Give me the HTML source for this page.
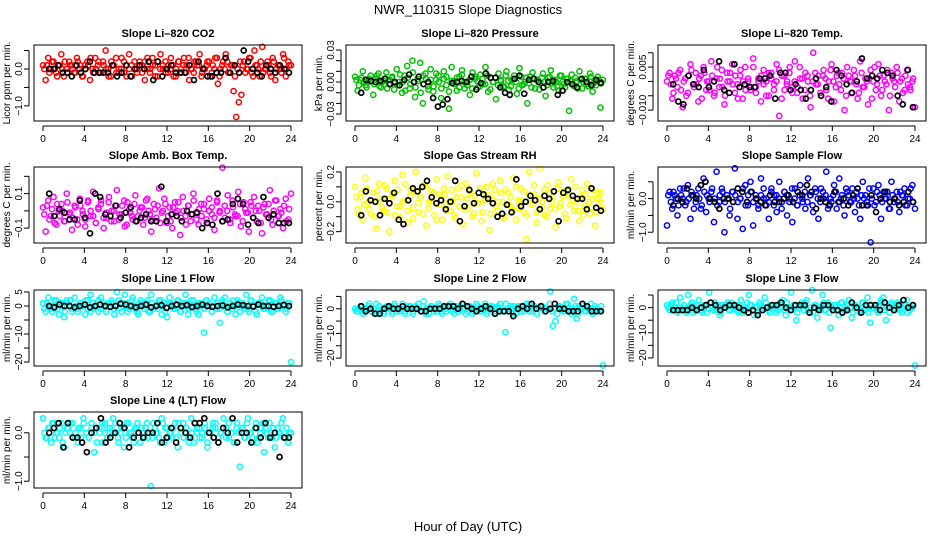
<!DOCTYPE html>
<html><head><meta charset="utf-8"><style>
html,body{margin:0;padding:0;background:#fff}
svg{display:block;font-family:"Liberation Sans",sans-serif}
</style></head><body>
<svg id="chart" width="936" height="540" viewBox="0 0 936 540">
<text x="468" y="14" text-anchor="middle" font-size="13">NWR_110315  Slope Diagnostics</text>
<text x="468" y="531" text-anchor="middle" font-size="13">Hour of Day (UTC)</text>
</svg>
<script>
const xTicks = [0,4,8,12,16,20,24];
const co2Vals = [1,-3,3,0,2,-1,1,4,-2,0,2,1,-1,3,0,-2,1,2,-3,0,3,1,-1,2,5,0,-2,1,3,-1,0,2,-2,4,1,0,-1,2,1,-3,3,0,1,-2,2,4,0,-1,1,3,-2,0,2,-1,3,1,-3,0,2,1,4,-1,0,2,-2,1,3,-4,0,2,4,-1,1,-6,-13,-9,-7,2,0,3,-1,5,1,-2,6,0,2,-1,3,-3,1,0,4,-2,2,1];
const co2Dense = [0,1,-1,2,0,-2,1,0,2,-1,1,0,-1,2,1,-2,0,1,3,-1,0,2,-1,1,0,-2,2,1,-1,0,3,-1,1,0,-2,2,0,1,-1,2,0,-1,3,1,-2,0,1,2,-1,0,1,-2,2,0,1,-1,3,0,-1,2,1,-2,0,1,2,-1,0,3,-2,1,0,2,-1,1,-2,0,2,1,-1,0,3,-2,1,0,2,-1,0,1,-2,2,0,1,-1,3,0,1];
const co2Black = [0,0,1,-1,-1,-2,1,-1,0,2,-1,-1,-1,-1,1,-2,-1,1,-2,0,1,0,2,-3,2,-2,0,1,-1,-1,-1,1,-3,2,0,-2,-2,-1,-1,3,-1,1,-1,5,2,0,-1,-2,1,0,-1,1,0,-1];
const presVals = [5,-8,2,10,-3,0,6,-12,3,8,-5,1,9,-2,4,-7,12,0,-10,6,15,-6,20,-14,3,18,-20,8,-4,12,-9,2,6,-15,10,-3,-25,14,1,-8,5,11,-6,0,-12,9,3,-5,7,-2,14,-9,4,0,-16,8,1,-4,10,-7,2,6,-11,13,-3,0,-20,5,9,-6,2,-1,8,-13,4,11,-5,0,-8,6,-2,3,-27,7,-4,1,10,-6,3,-2,8,-9,0,5,-24,2];
const presDense = [2,-3,4,0,-5,3,1,-2,6,-4,0,3,-6,2,5,-1,-3,7,0,-8,4,-2,9,-5,1,-10,6,3,-7,2,-4,8,0,-6,3,5,-9,1,-2,4,-5,7,0,-3,2,-6,5,1,-4,3,-2,6,-7,0,4,-3,2,-5,6,1,-4,3,0,-6,5,-2,4,-1,-5,3,2,-7,4,0,-3,5,-1,2,-4,6,0,-5,3,1,-2,4,-6,2,0,3,-4,5,-1,-3,2,0];
const presBlack = [-10,2,1,0,1,3,-2,0,-3,2,7,0,5,-2,0,-15,-23,-21,-16,-1,0,1,0,5,-7,-1,8,4,4,-5,-10,-12,3,6,-11,2,3,0,-5,0,1,-12,-8,0,-2,-5,3,0,-3,2,-1];
const tempVals = [0,3,-6,2,-2,4,-9,1,-4,6,-1,3,-7,2,5,-3,0,7,-5,1,-2,4,-8,3,0,6,-4,-1,2,-6,5,0,-3,8,-2,1,-7,4,0,-5,3,-1,6,-12,2,-3,0,5,-4,7,-2,1,-6,3,0,-9,10,-1,2,-5,4,-3,0,6,-7,2,-1,3,-10,5,0,-4,2,-6,7,-2,1,-8,4,0,-3,6,-5,2,-1,-10,3,0,5,-7,1,-3,4,-2,0,-9];
const tempDense = [2,-1,-4,1,3,-3,0,-5,2,4,-2,-1,1,-6,3,0,-3,2,-4,5,1,-2,-5,0,3,-1,2,-6,4,0,-3,1,-2,5,-4,0,2,-1,-5,3,1,-3,0,4,-6,2,-1,3,-2,0,-4,5,1,-3,2,-5,0,3,-1,-4,2,1,-6,4,0,-2,3,-3,1,-5,2,0,4,-1,-4,3,-2,0,1,-6,5,-1,2,-3,0,4,-5,1,-2,3,0,-4,2,-1,-3,1];
const tempBlack = [-1,-7,-8,2,-1,-2,4,-2,0,7,-3,-4,6,-2,-1,-2,-2,1,1,2,-6,3,3,-3,-1,-3,-6,-3,1,-5,-2,-7,4,2,-1,-4,0,8,1,2,1,4,3,2,-5,-8,4,-9];
const boxVals = [2,-12,6,-3,8,-8,0,4,-6,10,-2,-11,3,-5,7,0,-9,5,-3,11,-7,1,6,-10,-4,8,0,-6,12,-2,3,-9,5,-1,-5,9,-3,2,-8,6,0,-12,4,-4,13,-1,7,-7,2,-10,5,0,-14,8,-3,3,-6,10,-1,-8,4,1,-5,7,-2,-11,6,0,25,-4,9,-7,2,-3,11,-9,5,-1,-12,3,8,-6,0,-13,4,-2,12,-8,6,-3,1,-10,7,-5,10];
const boxDense = [-2,3,-5,1,-7,4,-3,0,-6,5,-1,-4,2,-8,3,-2,-5,6,0,-3,-7,2,4,-4,-1,5,-6,0,3,-5,-2,6,-8,1,-3,4,-6,0,2,-4,7,-2,-5,1,3,-7,0,4,-3,-6,2,-1,5,-4,0,-8,3,-2,6,-5,1,-3,4,-7,0,2,-4,5,-1,-6,3,0,-5,6,-2,-3,4,-6,1,-1,5,-4,0,3,-7,2,-2,4,-5,0,6,-3,-1,3,-6,1];
const boxBlack = [10,-3,1,-1,-5,-5,6,-4,-13,10,8,-2,-3,3,-4,-1,2,-6,-4,-2,-6,-6,14,-6,-2,-3,-6,0,-2,-1,-10,-7,-8,10,-6,-5,4,7,4,-8,-4,-7,8,-4,-2,-7,-7,-7];
const rhVals = [10,-5,3,-12,16,0,-8,6,-18,12,2,-6,9,-20,4,14,-3,-10,18,1,-14,8,-4,20,-7,3,11,-16,0,7,-9,15,-2,-12,5,17,-6,0,-11,9,3,-15,12,-4,6,-8,19,-1,-13,4,10,-19,2,8,-6,14,0,-10,6,-3,16,-12,1,9,-7,-25,20,-2,5,-14,22,0,-9,11,-5,3,-17,13,-1,7,-11,4,15,-6,0,-13,8,-3,12,-8,2,-16,6,0,-5];
const rhDense = [3,-8,6,-2,9,-5,1,-10,7,0,-4,11,-7,2,5,-9,8,-3,0,12,-6,4,-11,7,-1,3,-8,10,-4,1,6,-12,5,-2,9,-6,0,8,-9,3,-3,11,-5,2,7,-10,4,-1,9,-7,1,5,-8,12,-3,0,6,-11,8,-2,3,-6,10,-4,1,7,-9,5,-1,11,-7,2,-4,8,-10,6,0,-5,9,-3,4,-8,7,-2,1,10,-6,3,-9,5,0,-4,8,-7,2,6];
const rhBlack = [-9,7,1,0,-9,2,-1,6,-12,-15,1,9,7,10,14,3,-1,1,-5,0,14,-13,-3,8,-1,6,5,2,-1,-10,-8,-2,-7,15,-3,0,4,1,-5,4,2,7,-13,6,8,4,2,2,-5,9,-4,-6];
const sfVals = [-8,2,-3,1,-5,3,0,-2,4,-6,1,-1,3,-3,6,-4,0,2,-7,8,-1,3,-10,1,-5,2,9,-6,0,-9,4,-2,5,-8,1,-3,6,0,-2,-6,3,1,-4,5,-1,2,-5,0,-7,3,-2,4,-1,-3,6,1,-4,2,-6,3,0,8,-2,-1,4,-3,6,1,-5,2,-1,3,-4,0,-6,5,1,-2,-13,3,-1,4,-6,2,0,-3,5,-1,2,-4,1,3,-2,0,4,-3];
const sfDense = [1,-1,2,0,-2,1,3,-1,0,2,-3,1,0,-2,2,1,-1,3,0,-2,1,2,-1,0,-3,2,1,-1,0,3,-2,1,2,-1,0,-2,1,3,0,-1,2,-2,1,0,-3,2,1,-1,3,0,-2,1,0,2,-1,1,-2,3,0,-1,2,1,-3,0,1,2,-1,0,-2,3,1,-1,0,2,-2,1,0,-1,3,0,-2,2,1,-1,0,2,-3,1,0,-1,2,1,-2,0,3,-1];
const sfBlack = [-2,0,-1,3,1,0,4,5,0,-1,-3,0,0,-1,3,2,-1,2,0,-1,-2,1,-1,-1,0,1,-1,2,1,4,2,-3,0,-1,-2,2,-1,0,-2,1,3,-2,-2,1,-4,0,2,-1,0,-2,-1,2,-1];
const l1Vals = [1,-2,3,-1,0,2,-3,1,-4,2,0,-2,3,-1,1,0,-3,2,4,-1,0,-2,3,1,-2,0,2,-3,5,-1,1,4,-2,0,3,-1,-3,2,0,1,-2,4,-1,0,2,-3,1,-4,3,0,-1,2,-2,1,4,-3,0,2,-1,-3,1,-9.5,2,0,-2,3,-1,-6,1,3,-2,0,2,-3,1,0,-1,4,-2,2,0,-3,1,3,-1,0,2,-2,1,-1,3,0,-2,1,-20];
const l1Dense = [-1,1,0,-2,2,-1,1,0,-2,1,2,-1,0,-2,1,0,2,-1,-2,1,0,2,-1,0,-2,1,1,-1,0,2,-2,0,1,-1,2,0,-2,1,0,-1,2,-2,1,0,-1,2,0,-2,1,1,-1,0,2,-2,0,1,-1,2,0,-2,1,0,-1,2,1,-2,0,1,-1,2,0,-2,1,-1,0,2,-2,1,0,-1,2,0,-2,1,1,-1,0,2,-2,0,1,-1,2,0,-1,1];
const l1Black = [0,-0.5,0.5,0,0,-0.5,0,0.5,-0.5,0,0.5,0,-0.3,0,0.8,0.5,0,-0.5,0,0.5,-0.5,0,0.3,-0.7,0,0.5,0,0.3,-0.4,0,0.5,0,-0.3,0,0.2,-0.5,0,0.5,0.3,0,-0.2,0.5,0,0,-0.3,0,0.4,0];
const l2Vals = [0,-1,1,-2,0,1,-1,0,2,-1,0,-2,1,0,-1,2,0,-1,1,-2,0,1,-1,0,2,-1,3,0,-2,1,0,-1,1,-2,0,1,2,-1,0,-1,1,0,-2,1,0,-1,2,0,-1,1,-2,0,1,-1,0,2,-1,-9.5,0,1,-2,0,1,-1,0,2,-1,0,1,-2,0,1,-1,0,7,-7,-5,1,0,-1,2,0,-2,4,-4,1,0,-1,1,0,-2,1,0,-1,-23];
const l2Dense = [-1,0,1,-1,0,2,-1,0,-2,1,0,-1,1,0,-2,1,-1,0,2,-1,1,0,-2,1,0,-1,1,-2,0,1,-1,0,2,-1,0,-1,1,0,-2,1,-1,2,0,-1,1,-2,0,1,-1,0,2,-1,1,0,-2,1,0,-1,2,-1,0,1,-2,0,1,-1,0,2,-1,1,-2,0,1,-1,0,2,-1,0,-2,1,0,-1,2,-1,0,1,-2,0,1,-1,0,2,-1,0,-1,1];
const l2Black = [1,-1,0,-2,-2,0,1,0,0,1,0,0,0,-1,-1,0,0,0,1,1,1,0,2,1,0,-1,0,1,0,-2,-1,-1,-1,-3,0,1,0,2,0,1,-1,0,2,0,0,-1,-1,-1,2,1,-1,-1,-1];
const l3Vals = [1,-1,2,0,-2,4,0,-1,5,1,-2,0,3,-1,1,-2,6,0,2,-1,-3,1,0,2,-1,0,1,-2,3,0,-1,5,1,-3,0,2,-1,4,0,-2,1,0,-1,2,3,-3,0,6,1,-5,0,2,-1,3,-2,7,1,-4,0,5,-1,2,-8,0,1,-3,2,-1,0,3,-4,1,0,-2,2,-1,4,-6,0,1,-2,3,4,-5,0,2,-1,1,0,-2,1,3,-1,0,-23];
const l3Dense = [0,1,-1,2,0,-1,1,-2,0,2,-1,1,0,-2,1,0,2,-1,0,1,-2,0,1,-1,2,0,-1,1,-2,0,2,1,-1,0,-2,1,0,2,-1,0,1,-2,1,0,-1,2,0,-1,1,-2,0,1,2,-1,0,-2,1,0,-1,2,1,-2,0,1,-1,0,2,-1,1,0,-2,1,0,-1,2,0,-2,1,0,-1,1,2,-1,0,-2,1,0,2,-1,0,1,-2,0,1];
const l3Black = [-1,-1,-1,-1,0,-1,0,1,2,1,-1,0,1,1,0,-1,-2,-1,-3,-1,0,1,1,2,0,-1,1,1,1,-2,0,-1,1,1,-1,-1,-2,-1,2,0,-2,1,1,1,-1,2,0,-1,1,3,0,1];
const l4Vals = [3,-1,1,-2,2,0,-1,2,-3,1,0,2,-1,-2,1,3,0,-1,2,-4,1,0,-2,2,1,-1,3,0,-2,1,-3,2,0,-1,1,2,-2,0,1,-1,-11,2,0,-1,3,-2,1,0,-1,2,-3,1,2,0,-1,3,-2,0,1,-1,2,-3,0,1,2,-2,0,3,1,-1,0,-2,2,-7,1,-1,3,0,-2,2,-1,1,-4,0,2,-1,-3,1,0,3,-1,-2,0];
const l4Dense = [0,-1,1,2,-1,0,1,-2,0,1,2,-1,0,1,-1,2,0,-1,1,0,-2,1,2,0,-1,1,0,2,-1,0,1,-1,2,0,-2,1,0,1,-1,2,0,-1,1,0,-2,2,1,-1,0,1,-1,2,0,-1,1,-2,0,2,1,-1,0,1,-2,0,2,1,-1,0,1,-1,2,0,-2,1,0,1,-1,2,0,-1,1,-2,0,2,1,-1,0,1,-1,0,2,-1,1,0];
const l4Black = [0,1,2,-3,2,-1,-1,-2,-4,0,1,3,-2,-1,0,2,1,-3,-1,0,-1,0,0,2,-2,-1,1,-2,1,0,-1,2,2,3,0,-1,-2,1,0,3,-2,0,0,-2,1,-1,2,-1,0,-5,-1,-1];

const panels = [
 {name:'co2',title:'Slope Li\u2013820 CO2',yl:'Licor ppm per min.',col:'#ff0000',c:0,r:0,ymin:-1.41,ymax:0.65,ticks:[-1,-0.5,0,0.5],labs:{'-1':'\u22121.0','0':'0.0'},v:co2Vals,d:co2Dense,b:co2Black,s:0.1},
 {name:'pressure',title:'Slope Li\u2013820 Pressure',yl:'kPa per min.',col:'#00c000',c:1,r:0,ymin:-0.0365,ymax:0.0347,ticks:[-0.03,-0.02,-0.01,0,0.01,0.02,0.03],labs:{'-0.03':'\u22120.03','0':'0.00','0.03':'0.03'},v:presVals,d:presDense,b:presBlack,s:0.001},
 {name:'temp',title:'Slope Li\u2013820 Temp.',yl:'degrees C per min.',col:'#ff00ff',c:2,r:0,ymin:-0.0138,ymax:0.0127,ticks:[-0.01,-0.005,0,0.005,0.01],labs:{'-0.01':'\u22120.010','0.005':'0.005'},v:tempVals,d:tempDense,b:tempBlack,s:0.001},
 {name:'box-temp',title:'Slope Amb. Box Temp.',yl:'degrees C per min.',col:'#ff00ff',c:0,r:1,ymin:-0.186,ymax:0.254,ticks:[-0.1,0,0.1,0.2],labs:{'-0.1':'\u22120.1','0.1':'0.1'},v:boxVals,d:boxDense,b:boxBlack,s:0.01},
 {name:'rh',title:'Slope Gas Stream RH',yl:'percent per min.',col:'#ffff00',c:1,r:1,ymin:-0.276,ymax:0.233,ticks:[-0.2,-0.1,0,0.1,0.2],labs:{'-0.2':'\u22120.2','0':'0.0','0.2':'0.2'},v:rhVals,d:rhDense,b:rhBlack,s:0.01},
 {name:'sample-flow',title:'Slope Sample Flow',yl:'ml/min per min.',col:'#0000ff',c:2,r:1,ymin:-1.32,ymax:0.94,ticks:[-1,-0.5,0,0.5],labs:{'-1':'\u22121.0','0':'0.0'},v:sfVals,d:sfDense,b:sfBlack,s:0.1},
 {name:'line1-flow',title:'Slope Line 1 Flow',yl:'ml/min per min.',col:'#00ffff',c:0,r:2,ymin:-21.4,ymax:5.7,ticks:[-20,-15,-10,-5,0,5],labs:{'-20':'\u221220','-10':'\u221210','0':'0','5':'5'},v:l1Vals,d:l1Dense,b:l1Black,s:1},
 {name:'line2-flow',title:'Slope Line 2 Flow',yl:'ml/min per min.',col:'#00ffff',c:1,r:2,ymin:-23.2,ymax:7.6,ticks:[-20,-15,-10,-5,0,5],labs:{'-20':'\u221220','-10':'\u221210','0':'0'},v:l2Vals,d:l2Dense,b:l2Black,s:1},
 {name:'line3-flow',title:'Slope Line 3 Flow',yl:'ml/min per min.',col:'#00ffff',c:2,r:2,ymin:-23.2,ymax:7.0,ticks:[-20,-15,-10,-5,0,5],labs:{'-20':'\u221220','-10':'\u221210','0':'0'},v:l3Vals,d:l3Dense,b:l3Black,s:1},
 {name:'line4-flow',title:'Slope Line 4 (LT) Flow',yl:'ml/min per min.',col:'#00ffff',c:0,r:3,ymin:-1.14,ymax:0.43,ticks:[-1,-0.5,0],labs:{'-1':'\u22121.0','0':'0.0'},v:l4Vals,d:l4Dense,b:l4Black,s:0.1}
];
const NS='http://www.w3.org/2000/svg';
const svg=document.getElementById('chart');
const colLeft=[34,346,658], rowTop=[45,167,290,412], W=268, H=76;
function mk(tag,attrs,parent){const e=document.createElementNS(NS,tag);for(const k in attrs)e.setAttribute(k,attrs[k]);parent.appendChild(e);return e;}
panels.forEach(p=>{
  const L=colLeft[p.c], T=rowTop[p.r], B=T+H;
  const g=mk('g',{},svg);
  
  
  const xs=h=>L+9+h/24*248;
  const ys=v=>T+(p.ymax-v)/(p.ymax-p.ymin)*H;
  const ttl=mk('text',{x:L+W/2,y:T-8,'text-anchor':'middle','font-size':'11','font-weight':'bold'},g);
  ttl.textContent=p.title;
  
  
  const yl=mk('text',{x:0,y:0,'text-anchor':'middle','font-size':'10',transform:`translate(${L-24},${T+H/2}) rotate(-90)`},g);
  yl.textContent=p.yl;
  
  
  const nd=p.d.length;
  p.d.forEach((v,i)=>{
    const c=mk('circle',{cx:xs(0.12+i*23.7/(nd-1)),cy:ys(v*p.s),r:2.6,fill:'none',stroke:p.col,'stroke-width':1.5},g);
    
    
  });
  const n=p.v.length;
  p.v.forEach((v,i)=>{
    const c=mk('circle',{cx:xs(i*24/(n-1)),cy:ys(v*p.s),r:2.6,fill:'none',stroke:p.col,'stroke-width':1.5},g);
    
    
  });
  const m=p.b.length;
  p.b.forEach((v,i)=>{
    const c=mk('circle',{cx:xs(0.6+i*23.2/(m-1)),cy:ys(v*p.s),r:2.5,fill:'none',stroke:'#000','stroke-width':1.7},g);
    
    
  });
  const box=mk('rect',{x:L,y:T,width:W,height:H,fill:'none',stroke:'#000','stroke-width':1},g);
  
  
  const xa=mk('g',{},g);
  
  
  mk('line',{x1:xs(0),x2:xs(24),y1:B+5,y2:B+5,stroke:'#000'},xa);
  xTicks.forEach(t=>{
    mk('line',{x1:xs(t),x2:xs(t),y1:B+5,y2:B+10,stroke:'#000'},xa);
    const tl=mk('text',{x:xs(t),y:B+21,'text-anchor':'middle','font-size':'10'},xa);
    tl.textContent=String(t);
  });
  const ya=mk('g',{},g);
  
  
  const tk=p.ticks;
  mk('line',{x1:L-5,x2:L-5,y1:ys(tk[0]),y2:ys(tk[tk.length-1]),stroke:'#000'},ya);
  tk.forEach(t=>{
    mk('line',{x1:L-10,x2:L-5,y1:ys(t),y2:ys(t),stroke:'#000'},ya);
    const lab=p.labs[String(t)];
    if(lab){const tl=mk('text',{x:0,y:0,'text-anchor':'middle','font-size':'10',transform:`translate(${L-12},${ys(t)}) rotate(-90)`},ya);tl.textContent=lab;}
  });
});
</script>
</body></html>
